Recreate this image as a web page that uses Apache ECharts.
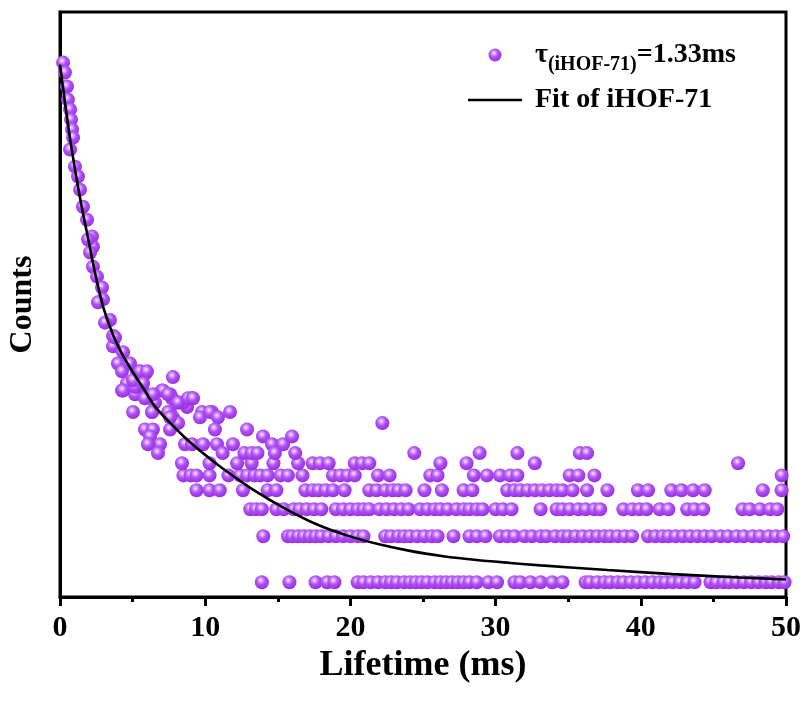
<!DOCTYPE html>
<html>
<head>
<meta charset="utf-8">
<script src="https://cdn.jsdelivr.net/npm/echarts@6/dist/echarts.min.js"></script>
<style>
  html, body { margin: 0; padding: 0; background: #fff; }
  #chart { width: 806px; height: 708px; }
</style>
</head>
<body>
<div id="chart"></div>
<script>
// Photon counts of the iHOF-71 decay (time in ms, counts per channel)
const earlyTimes = [0.21, 0.34, 0.48, 0.55, 0.69, 0.76, 0.83, 0.90, 0.69, 1.03, 1.24, 1.38, 1.58, 1.86, 2.20, 2.27,
  1.93, 2.07, 2.27, 2.55, 2.89, 2.96, 2.62, 3.44, 3.10, 3.65, 3.65, 4.34, 3.99, 4.68, 4.27, 5.30, 5.85, 7.78,
  4.61, 5.65, 4.27, 5.17, 7.02, 7.58, 6.54, 8.13, 9.09, 8.75, 5.03, 6.34, 7.58, 9.78, 10.47,
  4.34, 5.17, 5.85, 7.09, 7.71, 8.47, 9.09, 6.34, 7.44, 7.78, 8.13, 9.64, 10.33, 10.88, 11.71, 10.67, 12.88,
  5.85, 6.40, 7.58, 6.20, 6.89, 6.06, 8.61, 9.09, 9.85, 10.81, 11.91, 13.98, 14.60, 15.36, 15.98, 22.2,
  3.79, 4.82, 5.51, 5.99, 5.03, 5.72, 6.40, 7.44, 8.13, 8.82, 9.16, 7.58];
const earlyCounts = [2518, 2168, 1755, 1442, 1241, 1067, 918, 813, 679, 525, 452, 371, 287, 236, 183, 157,
  175, 144, 116, 100, 85, 71, 68, 52, 50, 41, 35, 32, 27, 27, 24, 24, 23, 22,
  20, 19, 18, 17, 18, 17, 15, 15, 16, 14, 13, 13, 13, 13, 13,
  18, 19, 16, 18, 16, 15, 16, 13, 13, 12, 11, 12, 13, 12, 13, 10, 10,
  10, 10, 10, 9, 8, 8, 8, 8, 8, 8, 8, 9, 8, 8, 9, 11,
  40, 27, 24, 24, 21, 20, 17, 17, 15, 16, 16, 12];

// Channels in the tail holding 1 to 7 counts (times in ms)
const count1Times = [13.9, 15.8, 17.6, 18.4, 18.9, 20.5, 20.9, 21.4, 21.9, 22.4, 22.8, 23.2, 23.7, 24.1, 24.5,
  24.9, 25.3, 25.8, 26.2, 26.6, 27.0, 27.4, 27.8, 28.2, 28.7, 29.5, 30.1, 31.3, 31.7, 32.4, 33.1, 33.9, 34.6,
  36.2, 36.5, 37.0, 37.5, 37.9, 38.4, 38.8, 39.3, 39.8, 40.3, 40.8, 41.3, 41.7, 42.2, 42.7, 43.2, 43.7,
  44.8, 45.2, 45.7, 46.1, 46.6, 47.1, 47.6, 48.1, 48.6, 49.0, 49.5, 49.9];
const count2Times = [14.0, 15.7, 16.0, 16.4, 16.8, 17.2, 17.6, 18.0, 18.5, 19.0, 19.5, 20.0, 20.5, 20.9, 22.4,
  22.8, 23.3, 23.7, 24.1, 24.6, 25.1, 25.6, 26.0, 27.1, 28.2, 28.7, 29.3, 30.3, 30.8, 31.3, 32.0, 32.5, 33.1,
  33.5, 34.1, 34.6, 35.0, 35.5, 36.0, 36.5, 37.0, 37.5, 37.9, 38.4, 38.9, 39.4, 40.5, 41.0, 41.5, 41.9, 42.4,
  42.9, 43.4, 43.9, 44.4, 44.9, 45.5, 46.0, 46.6, 47.1, 47.7, 48.2, 48.8, 49.3, 49.8];
const count3Times = [13.1, 13.5, 13.9, 14.9, 15.4, 16.1, 16.5, 17.0, 17.5, 18.0, 19.0, 19.5, 20.0, 20.5, 20.9,
  21.3, 22.0, 22.5, 23.0, 23.5, 24.0, 24.8, 25.3, 25.8, 26.2, 26.7, 27.3, 27.8, 28.2, 28.7, 29.1, 30.0, 30.5,
  31.1, 33.1, 34.2, 34.6, 35.1, 35.7, 36.2, 36.8, 37.2, 38.8, 39.4, 39.9, 40.4, 41.3, 41.9, 43.2, 43.7, 44.3,
  47.0, 47.5, 48.2, 48.9, 49.4];
const count4Times = [9.4, 10.3, 11.0, 12.6, 14.3, 14.9, 16.9, 17.4, 17.8, 18.3, 18.8, 19.6, 21.3, 21.8, 22.4,
  22.9, 23.3, 23.8, 25.1, 26.3, 27.8, 28.4, 30.8, 31.3, 31.7, 32.2, 32.7, 33.2, 33.7, 34.2, 34.6, 35.3, 36.3,
  37.7, 39.8, 40.5, 42.1, 42.8, 43.6, 44.4, 48.4, 49.7];
const count5Times = [8.5, 9.0, 9.4, 10.3, 11.6, 12.4, 12.9, 13.4, 13.8, 14.3, 15.2, 15.7, 16.7, 18.8, 19.3,
  19.8, 20.3, 21.9, 22.7, 25.5, 26.0, 28.5, 29.4, 30.3, 31.0, 31.5, 35.1, 35.7, 36.8, 49.7];
const count6Times = [8.4, 10.3, 12.2, 13.2, 14.7, 16.4, 17.4, 17.9, 18.5, 20.3, 20.8, 21.3, 26.2, 28.0, 32.7, 46.7];
const count7Times = [6.75, 11.2, 12.7, 13.2, 13.6, 14.8, 16.2, 24.4, 28.9, 31.5, 35.8, 36.3];

// Fitted decay curve, sampled along its length
const fitTimes = [0, 0.4, 0.81, 1.35, 1.95, 2.45, 2.96, 3.65, 4.3, 5.03, 5.8, 6.54, 7.6, 8.75, 9.9, 11.02,
  13.29, 15.63, 17.91, 19.97, 21.83, 24.1, 26.4, 28.7, 31.0, 33.1, 37.7, 42.2, 46.8, 50];
const fitCounts = [2440, 1259, 678, 339, 175, 102, 64, 41.7, 30.9, 23.6, 18.2, 14.1, 11.0, 8.59, 6.92, 5.72,
  4.04, 2.99, 2.34, 1.995, 1.786, 1.603, 1.479, 1.396, 1.337, 1.288, 1.202, 1.130, 1.074, 1.042];

const xTicks = [0, 10, 20, 30, 40, 50];

const scatterData = [];
earlyTimes.forEach((t, i) => scatterData.push([t, earlyCounts[i]]));
[count1Times, count2Times, count3Times, count4Times, count5Times, count6Times, count7Times]
  .forEach((times, k) => times.forEach(t => scatterData.push([t, k + 1])));
const fitData = fitTimes.map((t, i) => [t, fitCounts[i]]);

const serif = '"Liberation Serif", "Times New Roman", serif';
const sphere = {
  type: 'radial', x: 0.42, y: 0.36, r: 0.62,
  colorStops: [
    { offset: 0, color: '#f6eaff' },
    { offset: 0.22, color: '#d7a2ff' },
    { offset: 0.5, color: '#b052f5' },
    { offset: 1, color: '#9a2fe2' }
  ]
};
// thin horizontal bar inside the legend box, so the icon reads as a line
const lineIcon = 'path://M0,0 M54,13 M0,5.2 L54,5.2 L54,7.8 L0,7.8 Z';

const chart = echarts.init(document.getElementById('chart'), null, { renderer: 'canvas' });
chart.setOption({
  animation: false,
  backgroundColor: '#fff',
  grid: {
    left: 60, right: 20, top: 12, bottom: 111,
    outerBoundsMode: 'none', containLabel: false,
    show: true, borderColor: '#000', borderWidth: 3, backgroundColor: 'transparent'
  },
  legend: {
    orient: 'vertical',
    left: 468, top: 41, padding: 0,
    itemWidth: 54, itemHeight: 13, itemGap: 11,
    textStyle: {
      fontFamily: serif, fontWeight: 'bold', fontSize: 28, color: '#000', padding: [0, 0, 0, 8],
      rich: {
        t: { fontFamily: serif, fontWeight: 'bold', fontSize: 28, color: '#000' },
        s: { fontFamily: serif, fontWeight: 'bold', fontSize: 20, color: '#000', padding: [20, 0, 0, 0] },
        m: { fontFamily: serif, fontWeight: 'bold', fontSize: 28, color: '#000' }
      }
    },
    formatter: name => name === 'decay' ? '{t|τ}{s|(iHOF-71)}{m|=1.33ms}' : 'Fit of iHOF-71',
    data: [
      { name: 'decay', icon: 'circle' },
      { name: 'fit', icon: lineIcon, itemStyle: { color: '#000' } }
    ]
  },
  xAxis: {
    type: 'value', min: 0, max: 50, interval: 10,
    axisLine: { show: true, lineStyle: { color: '#000', width: 3 } },
    axisTick: { show: true, inside: false, length: 9, lineStyle: { width: 3, color: '#000' } },
    minorTick: { show: true, splitNumber: 2, length: 5, lineStyle: { width: 3, color: '#000' } },
    splitLine: { show: false },
    axisLabel: {
      fontFamily: serif, fontWeight: 'bold', fontSize: 30, color: '#000', margin: 16,
      formatter: v => xTicks.includes(v) ? String(v) : ''
    },
    name: 'Lifetime (ms)', nameLocation: 'middle', nameGap: 49,
    nameTextStyle: { fontFamily: serif, fontWeight: 'bold', fontSize: 36, color: '#000' }
  },
  yAxis: {
    type: 'log', logBase: 10, min: 0.8, max: 5400,
    axisLine: { show: true, lineStyle: { color: '#000', width: 3 } },
    axisTick: { show: false }, axisLabel: { show: false }, splitLine: { show: false },
    name: 'Counts', nameLocation: 'middle', nameGap: 21, nameRotate: 90,
    nameTextStyle: { fontFamily: serif, fontWeight: 'bold', fontSize: 32, color: '#000' }
  },
  series: [
    {
      name: 'decay', type: 'scatter', data: scatterData, symbolSize: 14,
      itemStyle: { color: sphere, opacity: 1 }, z: 2
    },
    {
      name: 'fit', type: 'line', data: fitData, smooth: 0.25, showSymbol: false, symbol: 'none',
      lineStyle: { color: '#000', width: 2.6 }, itemStyle: { color: '#000' }, z: 3
    }
  ]
});
</script>
</body>
</html>
